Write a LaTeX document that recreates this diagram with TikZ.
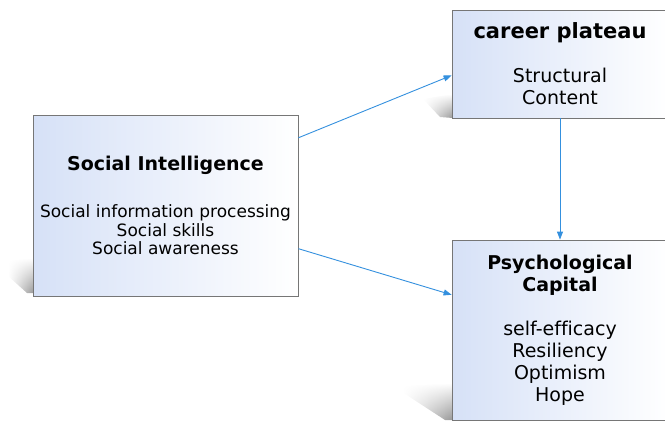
\documentclass[tikz,border=0pt]{standalone}
\usepackage{fontspec}
\setmainfont{DejaVu Sans}[Ligatures=NoCommon]
\usetikzlibrary{arrows.meta, positioning, fadings}
\definecolor{boxblue}{RGB}{214, 225, 247}
\definecolor{boxedge}{RGB}{118, 118, 118}
\definecolor{linkblue}{RGB}{52, 144, 222}
\definecolor{shadowgray}{RGB}{150, 150, 150}
\newcommand{\boxtitle}[1]{{\fontsize{19}{22}\selectfont\bfseries #1}}

\begin{document}
\begin{tikzpicture}[
    x=1pt, y=-1pt,
    box/.style={rectangle, draw=boxedge, line width=0.8pt, left color=boxblue, right color=white, inner sep=0pt, align=center, font=\fontsize{19}{22}\selectfont},
    smallbox/.style={box, font=\fontsize{17}{18.5}\selectfont},
    shadow/.style={left color=white, right color=shadowgray, path fading=north},
    link/.style={draw=linkblue, line width=0.9pt, -{Triangle[length=8pt, width=6pt]}}
  ]
    \clip (0,0) rectangle (665,423);
    % soft shadows behind the boxes
    \shade[shadow] (34,258) -- (8,261) -- (8,276) -- (27,293) -- (34,293) -- cycle;
    \shade[shadow] (453,94) -- (423,99) -- (440,117) -- (453,118) -- cycle;
    \shade[shadow] (453,383) -- (402,386) -- (402,392) -- (445,420) -- (453,420) -- cycle;

    \node (si) [smallbox, minimum width=265pt, minimum height=181pt] at (165.5,205.5) {\boxtitle{Social Intelligence}\\[29pt]Social information processing\\Social skills\\Social awareness};
    \node (cp) [box, minimum width=216pt, minimum height=108pt] at (560,64) {{\fontsize{21}{22}\selectfont\bfseries career plateau}\\[22pt]Structural\\Content};
    \node (pc) [box, minimum width=216pt, minimum height=180pt] at (560,330) {\boxtitle{Psychological}\\\boxtitle{Capital}\\[22pt]self-efficacy\\Resiliency\\Optimism\\Hope};

    \draw[link] (si.27) -- (cp.186);
    \draw[link] (si.-18) -- (pc.162);
    \draw[link] (cp.south) -- (pc.north);
  \end{tikzpicture}
\end{document}
